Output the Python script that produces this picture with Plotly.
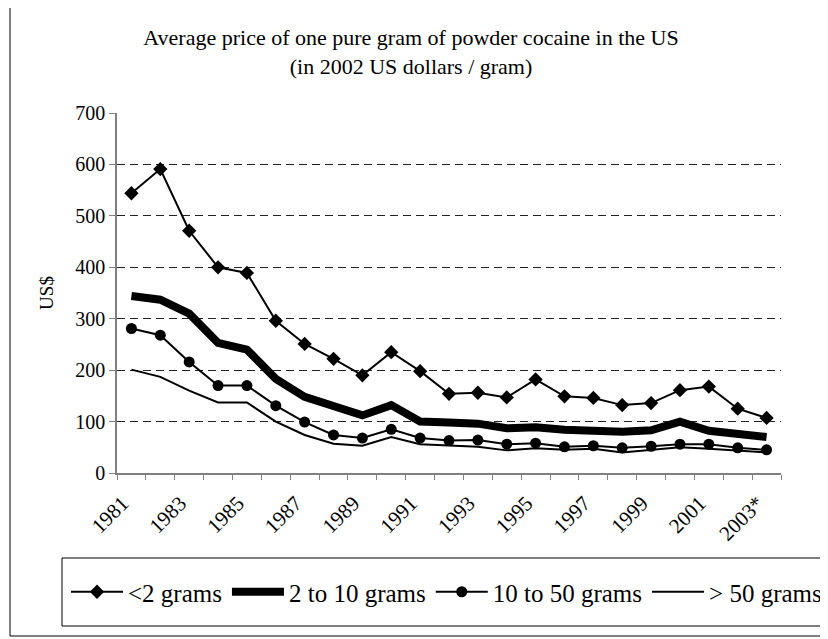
import plotly.graph_objects as go

years = [1981, 1982, 1983, 1984, 1985, 1986, 1987, 1988, 1989, 1990, 1991, 1992,
         1993, 1994, 1995, 1996, 1997, 1998, 1999, 2000, 2001, 2002, 2003]
tick_years = [1981, 1983, 1985, 1987, 1989, 1991, 1993, 1995, 1997, 1999, 2001, 2003]
tick_labels = ["1981", "1983", "1985", "1987", "1989", "1991", "1993", "1995",
               "1997", "1999", "2001", "2003*"]

under_2 = [544, 591, 471, 400, 389, 296, 251, 222, 190, 235, 198, 154,
           156, 147, 182, 149, 146, 132, 136, 161, 168, 125, 107]
g2_10 = [344, 337, 310, 253, 240, 183, 148, 130, 112, 132, 100, 98,
         96, 87, 89, 84, 82, 80, 83, 100, 82, 75, 70]
g10_50 = [281, 268, 216, 170, 170, 131, 99, 74, 68, 85, 68, 63,
          64, 56, 58, 51, 53, 49, 52, 56, 56, 49, 45]
over_50 = [201, 187, 160, 137, 137, 100, 74, 57, 53, 70, 56, 53,
           51, 44, 48, 45, 47, 40, 45, 50, 47, 44, 40]

FONT = "Liberation Serif, DejaVu Serif, serif"

fig = go.Figure()
fig.add_trace(go.Scatter(x=years, y=under_2, name="<2 grams", mode="lines+markers",
                         line=dict(color="black", width=2),
                         marker=dict(symbol="diamond", size=11, color="black")))
fig.add_trace(go.Scatter(x=years, y=g2_10, name="2 to 10 grams", mode="lines",
                         line=dict(color="black", width=8)))
fig.add_trace(go.Scatter(x=years, y=g10_50, name="10 to 50 grams", mode="lines+markers",
                         line=dict(color="black", width=2),
                         marker=dict(symbol="circle", size=11, color="black")))
fig.add_trace(go.Scatter(x=years, y=over_50, name="> 50 grams", mode="lines",
                         line=dict(color="black", width=2)))

# page body has an 8px margin; all reference pixel positions are shifted by it
OFF = 8
W, H = 828 - OFF, 639 - OFF
L, T = 117 - OFF, 113 - OFF
pw, ph = 664, 360
R = W - L - pw
B = H - T - ph

def px_x(v):
    return (v - OFF - L) / pw

def px_y(v):
    return (H - B - (v - OFF)) / ph

boundaries = [y - 0.5 for y in years] + [years[-1] + 0.5]

fig.update_layout(
    width=W, height=H,
    margin=dict(l=L, r=R, t=T, b=B),
    paper_bgcolor="white", plot_bgcolor="white",
    font=dict(family=FONT, size=18, color="black"),
    title=dict(text="Average price of one pure gram of powder cocaine in the US<br>(in 2002 US dollars / gram)",
               xref="container", x=(411 - OFF) / W, xanchor="center",
               yref="container", y=1 - (45 - OFF) / H, yanchor="middle",
               font=dict(family=FONT, size=22, color="black")),
    xaxis=dict(range=[years[0] - 0.5, years[-1] + 0.5], tickmode="array",
               tickvals=tick_years, ticktext=tick_labels, tickangle=-45,
               ticks="", showgrid=False, zeroline=False,
               showline=True, linecolor="#808080", linewidth=1.5,
               tickfont=dict(family=FONT, size=21),
               ticklabelstandoff=8, ticklabelshift=-9,
               minor=dict(tickmode="array", tickvals=boundaries, ticks="outside",
                          ticklen=5, tickcolor="#808080", showgrid=False)),
    yaxis=dict(range=[0, 700], dtick=100, ticks="outside", ticklen=6,
               tickcolor="#808080", showline=True, linecolor="#808080", linewidth=1.5,
               showgrid=True, gridcolor="#222222", griddash="8px,5px", gridwidth=1,
               zeroline=False, tickfont=dict(family=FONT, size=20),
               title=dict(text="US$", standoff=17, font=dict(family=FONT, size=19))),
    showlegend=True,
    legend=dict(orientation="h", x=px_x(66), xanchor="left", y=px_y(592), yanchor="middle",
                bgcolor="rgba(0,0,0,0)", borderwidth=0, itemwidth=52,
                font=dict(family=FONT, size=25)),
    shapes=[
        dict(type="rect", xref="paper", yref="paper",
             x0=px_x(10), x1=px_x(845), y0=px_y(636), y1=px_y(6),
             line=dict(color="black", width=1), fillcolor="rgba(0,0,0,0)", layer="below"),
        dict(type="rect", xref="paper", yref="paper",
             x0=px_x(62), x1=px_x(845), y0=px_y(626), y1=px_y(558),
             line=dict(color="black", width=1), fillcolor="rgba(0,0,0,0)", layer="below"),
    ],
)

fig.write_html("out.html")
